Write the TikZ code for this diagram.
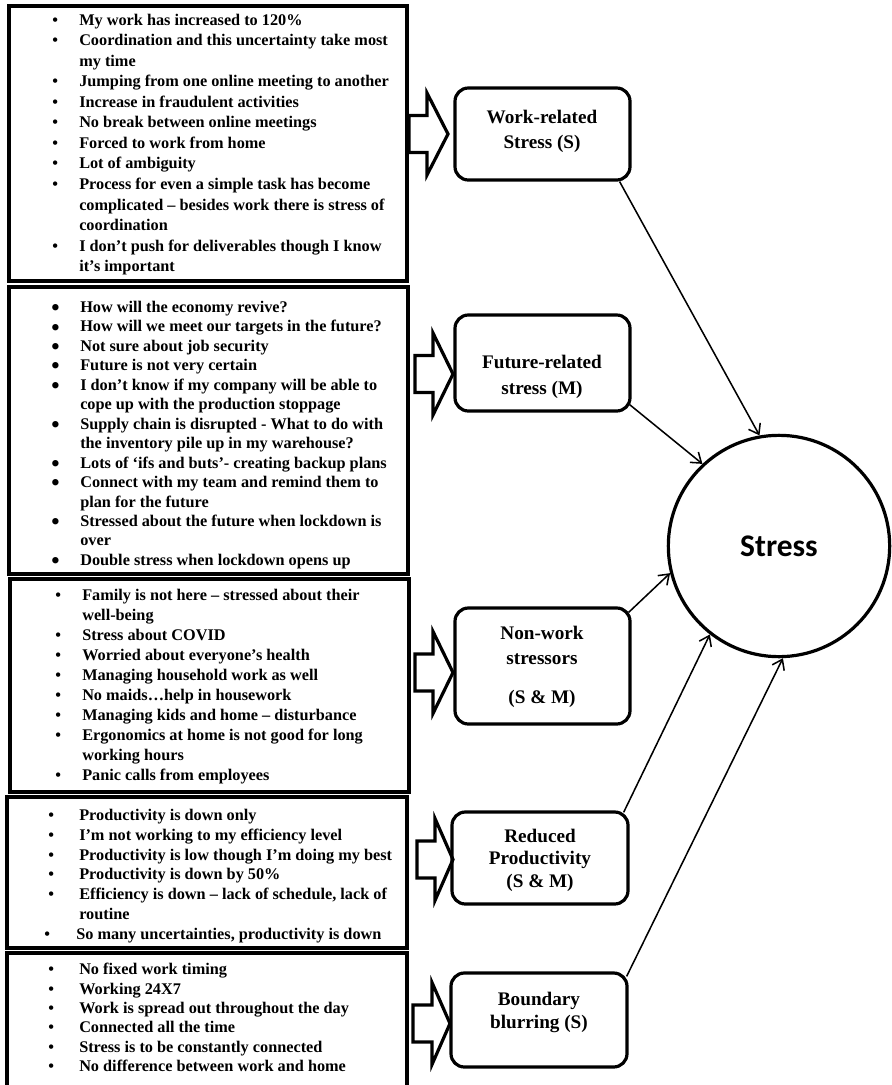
\documentclass[tikz,border=0pt]{standalone}
\usepackage{fontspec}
\setmainfont{Liberation Serif}
\newfontfamily\calibrifont{Carlito}
\usetikzlibrary{arrows.meta,calc,fit}
\newcommand\Bi[2]{\makebox[#1][l]{\textbullet}#2}
\newcommand\Bg[2]{\makebox[#1][l]{\raisebox{-2.4pt}[0pt][0pt]{\scalebox{1.45}{\textbullet}}}#2}
\newcommand\Bc[2]{\hspace*{#1}#2}
\newcommand\BlkArr[4]{%
  \draw[barrow] (#1,#4-18.5) -- (#2,#4-18.5) -- (#2,#4-41) -- (#3,#4) -- (#2,#4+41) -- (#2,#4+18.5) -- (#1,#4+18.5) -- cycle;}
\begin{document}
\begin{tikzpicture}[x=0.75pt,y=-0.75pt,
  lbox/.style={draw, line width=2.4pt, inner sep=0pt},
  rbox/.style={draw, line width=2.4pt, inner sep=0pt, rounded corners=10pt},
  ltext/.style={anchor=west, inner sep=0pt, align=left},
  mtext/.style={align=center, inner sep=0pt},
  barrow/.style={draw, line width=2.4pt, line join=miter},
  conn/.style={line width=1.15pt, -{Straight Barb[length=7pt,width=10pt]}}]
\useasboundingbox (0,0) rectangle (892,1085);
\clip (0,0) rectangle (892,1085);

% left boxes
\node[lbox, fit={(9,6)(407,281)}] (L1) {};
\node[lbox, fit={(9,287)(408,574)}] (L2) {};
\node[lbox, fit={(10,579)(409,792)}] (L3) {};
\node[lbox, fit={(7,797)(407,948)}] (L4) {};
\node[lbox, fit={(7,953)(407,1100)}] (L5) {};

\node[ltext, font=\fontsize{12.2}{15.4}\selectfont\bfseries] (T1) at (52,144.5) {%
\Bi{20.25pt}{My work has increased to 120\%}\\
\Bi{20.25pt}{Coordination and this uncertainty take most}\\
\Bc{20.25pt}{my time}\\
\Bi{20.25pt}{Jumping from one online meeting to another}\\
\Bi{20.25pt}{Increase in fraudulent activities}\\
\Bi{20.25pt}{No break between online meetings}\\
\Bi{20.25pt}{Forced to work from home}\\
\Bi{20.25pt}{Lot of ambiguity}\\
\Bi{20.25pt}{Process for even a simple task has become}\\
\Bc{20.25pt}{complicated – besides work there is stress of}\\
\Bc{20.25pt}{coordination}\\
\Bi{20.25pt}{I don’t push for deliverables though I know}\\
\Bc{20.25pt}{it’s important}};

\node[ltext, font=\fontsize{12.2}{14.6}\selectfont\bfseries] (T2) at (51,435) {%
\Bg{21.75pt}{How will the economy revive?}\\
\Bg{21.75pt}{How will we meet our targets in the future?}\\
\Bg{21.75pt}{Not sure about job security}\\
\Bg{21.75pt}{Future is not very certain}\\
\Bg{21.75pt}{I don’t know if my company will be able to}\\
\Bc{21.75pt}{cope up with the production stoppage}\\
\Bg{21.75pt}{Supply chain is disrupted - What to do with}\\
\Bc{21.75pt}{the inventory pile up in my warehouse?}\\
\Bg{21.75pt}{Lots of ‘ifs and buts’- creating backup plans}\\
\Bg{21.75pt}{Connect with my team and remind them to}\\
\Bc{21.75pt}{plan for the future}\\
\Bg{21.75pt}{Stressed about the future when lockdown is}\\
\Bc{21.75pt}{over}\\
\Bg{21.75pt}{Double stress when lockdown opens up}};

\node[ltext, font=\fontsize{12.2}{15}\selectfont\bfseries] (T3) at (55,687) {%
\Bi{20.25pt}{Family is not here – stressed about their}\\
\Bc{20.25pt}{well-being}\\
\Bi{20.25pt}{Stress about COVID}\\
\Bi{20.25pt}{Worried about everyone’s health}\\
\Bi{20.25pt}{Managing household work as well}\\
\Bi{20.25pt}{No maids…help in housework}\\
\Bi{20.25pt}{Managing kids and home – disturbance}\\
\Bi{20.25pt}{Ergonomics at home is not good for long}\\
\Bc{20.25pt}{working hours}\\
\Bi{20.25pt}{Panic calls from employees}};

\node[ltext, font=\fontsize{12.2}{14.8}\selectfont\bfseries] (T4) at (48,876) {%
\Bi{23.25pt}{Productivity is down only}\\
\Bi{23.25pt}{I’m not working to my efficiency level}\\
\Bi{23.25pt}{Productivity is low though I’m doing my best}\\
\Bi{23.25pt}{Productivity is down by 50\%}\\
\Bi{23.25pt}{Efficiency is down – lack of schedule, lack of}\\
\Bc{23.25pt}{routine}\\
\hspace*{-3pt}\Bi{24pt}{So many uncertainties, productivity is down}};

\node[ltext, font=\fontsize{12.2}{14.55}\selectfont\bfseries] (T5) at (48,1017.5) {%
\Bi{23.25pt}{No fixed work timing}\\
\Bi{23.25pt}{Working 24X7}\\
\Bi{23.25pt}{Work is spread out throughout the day}\\
\Bi{23.25pt}{Connected all the time}\\
\Bi{23.25pt}{Stress is to be constantly connected}\\
\Bi{23.25pt}{No difference between work and home}};

% block arrows
\BlkArr{409}{427}{448}{134}
\BlkArr{415}{433}{453}{374}
\BlkArr{415}{433}{453}{672.5}
\BlkArr{417}{435}{453}{859.5}
\BlkArr{413}{432}{450}{1023.5}

% middle rounded boxes
\node[rbox, fit={(455,88)(630,180)}] (A) {};
\node[rbox, fit={(455,315)(630,411)}] (B) {};
\node[rbox, fit={(455,608)(630,724)}] (C) {};
\node[rbox, fit={(452,812)(628,904)}] (D) {};
\node[rbox, fit={(451,973)(627,1067)}] (E) {};

\node[mtext, font=\fontsize{14.4}{18.75}\selectfont\bfseries] (At) at (542,131) {Work-related\\Stress (S)};
\node[mtext, font=\fontsize{14.4}{19}\selectfont\bfseries] (Bt) at (542,377) {Future-related\\stress (M)};
\node[mtext, font=\fontsize{14.4}{18.75}\selectfont\bfseries] (Ct) at (542,667) {Non-work\\stressors\\[10.5pt](S \& M)};
\node[mtext, font=\fontsize{14.4}{16.9}\selectfont\bfseries] (Dt) at (540,860) {Reduced\\Productivity\\(S \& M)};
\node[mtext, font=\fontsize{14.4}{17.25}\selectfont\bfseries] (Et) at (539,1012) {Boundary\\blurring (S)};

% circle
\node[circle, draw, line width=2.4pt, minimum size=166pt, inner sep=0pt,
      font=\calibrifont\bfseries\fontsize{23.6}{28}\selectfont] (S) at (779,546) {Stress};

% connectors
\draw[conn] ($(A.south east)+(-12,0)$) -- (S.100);
\draw[conn] ($(B.south east)+(-2,-8)$) -- (S.133);
\draw[conn] ($(C.north east)+(-3,6)$) -- (S.194);
\draw[conn] ($(D.north east)+(-6,2)$) -- (S.232);
\draw[conn] ($(E.north east)+(-2,5)$) -- (S.272);
\end{tikzpicture}
\end{document}
